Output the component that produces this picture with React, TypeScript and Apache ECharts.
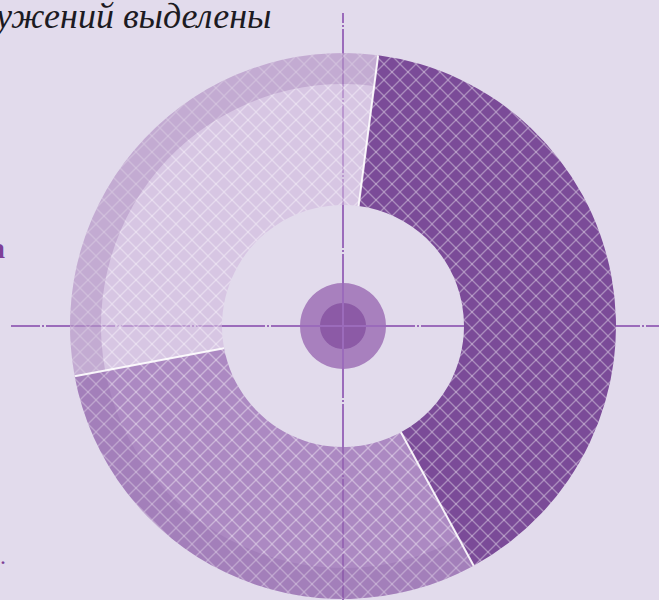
import React, { useEffect, useRef } from 'react';
import * as echarts from 'echarts';

// ---- data ----
const categories = ['Сегмент 1', 'Сегмент 2', 'Сегмент 3'];
const values = [40, 30, 30];
const mainColors = ['rgba(123,75,152,1)', 'rgba(149,102,176,0.7)', 'rgba(208,184,222,0.6)'];
const rimOverlay = ['rgba(0,0,0,0)', 'rgba(110,60,140,0.13)', 'rgba(110,60,140,0.19)'];
const titleText = 'ужений выделены';
const startOffsetDeg = 7.4; // clockwise from 12 o'clock

// ---- layout ----
const W = 659;
const H = 600;
const CX = 343;
const CY = 326;
const R_IN = 121;
const R_RIM = 242;
const R_OUT = 273;
const TICK_STEP = 75;
const LINE_COLOR = '#9b6bbb';
const BG = '#e2dbec';

function makePattern(fill: string, size = 16) {
  const c = document.createElement('canvas');
  c.width = size;
  c.height = size;
  const ctx = c.getContext('2d')!;
  ctx.fillStyle = fill;
  ctx.fillRect(0, 0, size, size);
  ctx.strokeStyle = 'rgba(255,255,255,0.36)';
  ctx.lineWidth = 1.3;
  for (let k = -1; k <= 1; k++) {
    ctx.beginPath();
    ctx.moveTo(k * size, 0);
    ctx.lineTo(k * size + size, size);
    ctx.stroke();
    ctx.beginPath();
    ctx.moveTo(k * size + size, 0);
    ctx.lineTo(k * size, size);
    ctx.stroke();
  }
  return { image: c, repeat: 'repeat', imageWidth: size, imageHeight: size } as any;
}

function buildLines() {
  const els: any[] = [];
  const gap = 3;
  const st = { stroke: LINE_COLOR, lineWidth: 2 };
  // horizontal
  const hTicks: number[] = [];
  for (let k = -4; k <= 4; k++) if (k !== 0) hTicks.push(CX + k * TICK_STEP);
  let start = 11;
  hTicks.forEach((t) => {
    els.push({ type: 'line', z: 1, shape: { x1: start, y1: CY, x2: t - gap, y2: CY }, style: st });
    els.push({ type: 'line', z: 1, shape: { x1: t - 1, y1: CY, x2: t + 1, y2: CY }, style: st });
    start = t + gap;
  });
  if (start < W) els.push({ type: 'line', z: 1, shape: { x1: start, y1: CY, x2: W, y2: CY }, style: st });
  // vertical
  const vTicks: number[] = [];
  for (let k = -4; k <= 4; k++) if (k !== 0) vTicks.push(CY + k * TICK_STEP);
  start = 13;
  vTicks.forEach((t) => {
    if (t - gap > start) {
      els.push({ type: 'line', z: 1, shape: { x1: CX, y1: start, x2: CX, y2: t - gap }, style: st });
      els.push({ type: 'line', z: 1, shape: { x1: CX, y1: t - 1, x2: CX, y2: t + 1 }, style: st });
      start = t + gap;
    }
  });
  if (start < H) els.push({ type: 'line', z: 1, shape: { x1: CX, y1: start, x2: CX, y2: H }, style: st });
  return els;
}

function buildSeparators() {
  const total = values.reduce((a, b) => a + b, 0);
  const els: any[] = [];
  let cum = 0;
  values.forEach((v) => {
    const deg = startOffsetDeg + (360 * cum) / total;
    const a = (deg * Math.PI) / 180;
    els.push({
      type: 'line',
      z: 100,
      shape: {
        x1: CX + R_IN * Math.sin(a),
        y1: CY - R_IN * Math.cos(a),
        x2: CX + R_OUT * Math.sin(a),
        y2: CY - R_OUT * Math.cos(a),
      },
      style: { stroke: 'rgba(255,255,255,0.9)', lineWidth: 2 },
    });
    cum += v;
  });
  return els;
}

export default function App() {
  const ref = useRef<HTMLDivElement>(null);
  useEffect(() => {
    if (!ref.current) return;
    const chart = echarts.init(ref.current, undefined, { renderer: 'svg', width: W, height: H });
    const mainData = categories.map((name, i) => ({
      name,
      value: values[i],
      itemStyle: { color: makePattern(mainColors[i]) },
    }));
    const rimData = categories.map((name, i) => ({
      name,
      value: values[i],
      itemStyle: { color: rimOverlay[i] },
    }));
    const pieCommon = {
      type: 'pie',
      center: [CX, CY],
      startAngle: 90 - startOffsetDeg,
      clockwise: true,
      silent: true,
      label: { show: false },
      labelLine: { show: false },
      emphasis: { disabled: true },
    };
    chart.setOption({
      animation: false,
      backgroundColor: BG,
      graphic: [
        { type: 'circle', z: 0, shape: { cx: CX, cy: CY, r: 43 }, style: { fill: '#a880be' } },
        { type: 'circle', z: 0, shape: { cx: CX, cy: CY, r: 23 }, style: { fill: '#8c5aa6' } },
        ...buildLines(),
        ...buildSeparators(),
        {
          type: 'text',
          z: 50,
          x: -4,
          y: -2,
          style: { text: titleText, font: 'italic 36px "Liberation Serif"', fill: '#1c1a22' },
        },
        {
          type: 'text',
          z: 50,
          x: 5,
          y: 232,
          style: { text: 'а', font: 'bold 30px "Liberation Serif"', fill: '#7e3f98', align: 'right' },
        },
        {
          type: 'text',
          z: 50,
          x: 6,
          y: 544,
          style: { text: '.', font: '24px "Liberation Serif"', fill: '#7e3f98', align: 'right' },
        },
      ],
      series: [
        { ...pieCommon, z: 10, name: 'main', radius: [R_IN, R_OUT], data: mainData },
        { ...pieCommon, z: 11, name: 'rim', radius: [R_RIM, R_OUT], data: rimData },
      ],
    });
    return () => chart.dispose();
  }, []);
  return (
    <div
      ref={ref}
      style={{ position: 'fixed', left: 0, top: 0, width: W, height: H, background: BG }}
    />
  );
}
